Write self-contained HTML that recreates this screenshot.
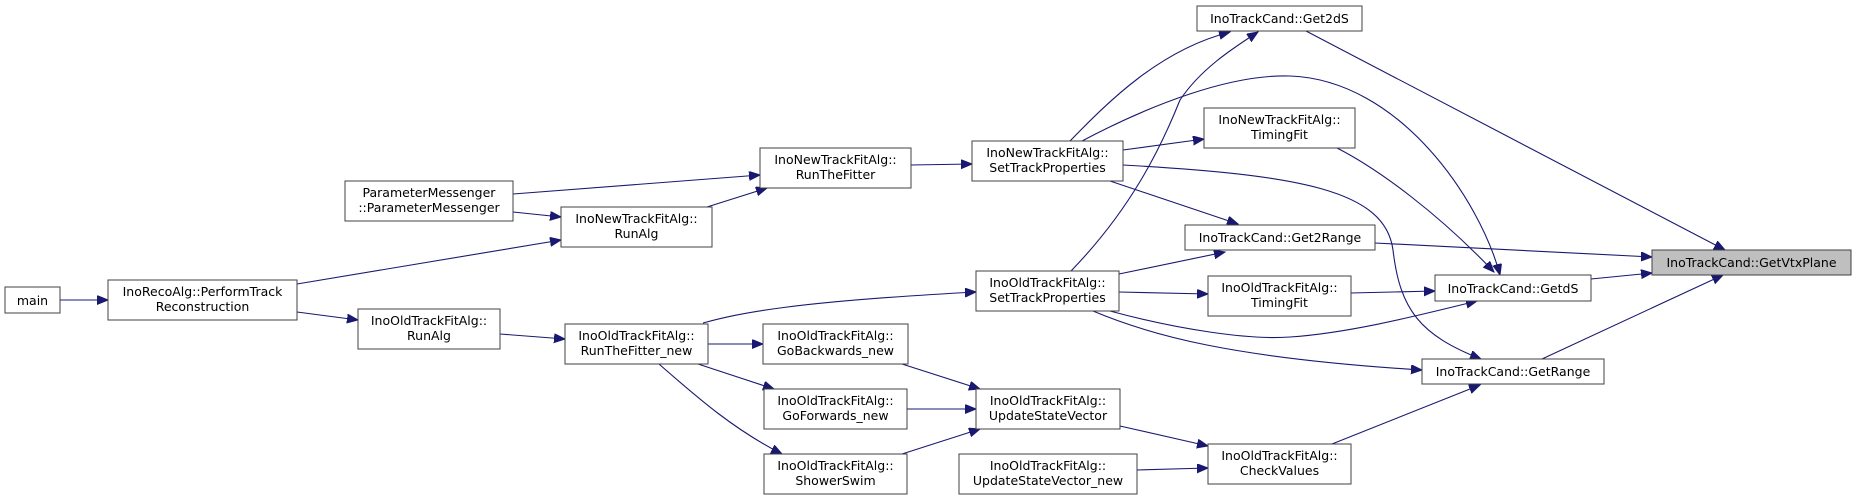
<!DOCTYPE html>
<html><head><meta charset="utf-8"><style>
html,body{margin:0;padding:0;background:#fff;}
svg{display:block;}
text{font-family:"DejaVu Sans","Liberation Sans",sans-serif;font-size:12.5px;fill:#000;text-anchor:middle;}
.n{fill:#fff;stroke:#404040;stroke-width:1;}
.e{fill:none;stroke:#191970;stroke-width:1.1;marker-end:url(#a);}
</style></head><body>
<svg width="1856" height="501" viewBox="0 0 1856 501" xmlns="http://www.w3.org/2000/svg">
<defs><marker id="a" markerUnits="userSpaceOnUse" markerWidth="12" markerHeight="10" refX="11" refY="4.5" orient="auto"><path d="M0,0 L11,4.5 L0,9 Z" fill="#191970" stroke="#191970"/></marker></defs>

<!-- edges -->
<path class="e" d="M60,300 L108,300"/>
<path class="e" d="M297,284 L561,240"/>
<path class="e" d="M297,312 L358,320"/>
<path class="e" d="M513,194 L760,175"/>
<path class="e" d="M513,212 L561,217"/>
<path class="e" d="M707,207 L767,188"/>
<path class="e" d="M911,165 L972,164"/>
<path class="e" d="M500,334 L565,339"/>
<path class="e" d="M703,323 C740,313 790,302 976,292"/>
<path class="e" d="M708,344 L763,344"/>
<path class="e" d="M698,364 L774,389"/>
<path class="e" d="M659,364 C700,400 735,430 782,454"/>
<path class="e" d="M902,364 L980,389"/>
<path class="e" d="M907,409 L976,409"/>
<path class="e" d="M902,454 L980,429"/>
<path class="e" d="M1070,141 C1110,100 1160,50 1230,32"/>
<path class="e" d="M1082,141 C1150,105 1230,74 1290,76 C1400,80 1480,200 1500,275"/>
<path class="e" d="M1123,150 L1204,139"/>
<path class="e" d="M1123,165 C1300,175 1385,190 1393,250 C1400,310 1420,335 1481,359"/>
<path class="e" d="M1110,181 L1238,224"/>
<path class="e" d="M1071,271 C1130,210 1160,150 1180,100 C1200,70 1230,50 1258,32"/>
<path class="e" d="M1119,274 L1225,252"/>
<path class="e" d="M1119,292 L1208,294"/>
<path class="e" d="M1110,311 C1180,330 1250,340 1290,337 C1350,333 1420,315 1477,301"/>
<path class="e" d="M1093,311 C1150,335 1230,358 1422,370"/>
<path class="e" d="M1120,426 L1208,446"/>
<path class="e" d="M1137,470 L1208,468"/>
<path class="e" d="M1332,444 L1480,385"/>
<path class="e" d="M1306,31 L1725,250"/>
<path class="e" d="M1337,148 C1380,170 1440,215 1494,272"/>
<path class="e" d="M1375,243 L1652,257"/>
<path class="e" d="M1351,293 L1435,291"/>
<path class="e" d="M1591,279 L1652,273"/>
<path class="e" d="M1542,359 L1723,275"/>

<!-- nodes -->
<rect class="n" x="5" y="287" width="55" height="26"/><text x="32.5" y="305">main</text>
<rect class="n" x="108" y="280" width="189" height="40"/><text x="202.5" y="296">InoRecoAlg::PerformTrack</text><text x="202.5" y="311">Reconstruction</text>
<rect class="n" x="345" y="181" width="168" height="40"/><text x="429" y="197">ParameterMessenger</text><text x="429" y="212">::ParameterMessenger</text>
<rect class="n" x="358" y="309" width="142" height="40"/><text x="429" y="325">InoOldTrackFitAlg::</text><text x="429" y="340">RunAlg</text>
<rect class="n" x="561" y="207" width="151" height="40"/><text x="636.5" y="223">InoNewTrackFitAlg::</text><text x="636.5" y="238">RunAlg</text>
<rect class="n" x="760" y="148" width="151" height="40"/><text x="835.5" y="164">InoNewTrackFitAlg::</text><text x="835.5" y="179">RunTheFitter</text>
<rect class="n" x="565" y="324" width="143" height="40"/><text x="636.5" y="340">InoOldTrackFitAlg::</text><text x="636.5" y="355">RunTheFitter_new</text>
<rect class="n" x="763" y="324" width="145" height="40"/><text x="835.5" y="340">InoOldTrackFitAlg::</text><text x="835.5" y="355">GoBackwards_new</text>
<rect class="n" x="764" y="389" width="143" height="40"/><text x="835.5" y="405">InoOldTrackFitAlg::</text><text x="835.5" y="420">GoForwards_new</text>
<rect class="n" x="764" y="454" width="143" height="40"/><text x="835.5" y="470">InoOldTrackFitAlg::</text><text x="835.5" y="485">ShowerSwim</text>
<rect class="n" x="972" y="141" width="151" height="40"/><text x="1047.5" y="157">InoNewTrackFitAlg::</text><text x="1047.5" y="172">SetTrackProperties</text>
<rect class="n" x="976" y="271" width="143" height="40"/><text x="1047.5" y="287">InoOldTrackFitAlg::</text><text x="1047.5" y="302">SetTrackProperties</text>
<rect class="n" x="976" y="389" width="144" height="40"/><text x="1048" y="405">InoOldTrackFitAlg::</text><text x="1048" y="420">UpdateStateVector</text>
<rect class="n" x="959" y="454" width="178" height="40"/><text x="1048" y="470">InoOldTrackFitAlg::</text><text x="1048" y="485">UpdateStateVector_new</text>
<rect class="n" x="1197" y="6" width="165" height="25"/><text x="1279.5" y="23">InoTrackCand::Get2dS</text>
<rect class="n" x="1204" y="108" width="151" height="40"/><text x="1279.5" y="124">InoNewTrackFitAlg::</text><text x="1279.5" y="139">TimingFit</text>
<rect class="n" x="1185" y="225" width="190" height="25"/><text x="1280" y="242">InoTrackCand::Get2Range</text>
<rect class="n" x="1208" y="276" width="143" height="40"/><text x="1279.5" y="292">InoOldTrackFitAlg::</text><text x="1279.5" y="307">TimingFit</text>
<rect class="n" x="1208" y="444" width="143" height="40"/><text x="1279.5" y="460">InoOldTrackFitAlg::</text><text x="1279.5" y="475">CheckValues</text>
<rect class="n" x="1435" y="275" width="156" height="26"/><text x="1513" y="293">InoTrackCand::GetdS</text>
<rect class="n" x="1422" y="359" width="182" height="25"/><text x="1513" y="376">InoTrackCand::GetRange</text>
<rect x="1652" y="250" width="199" height="25" fill="#bfbfbf" stroke="#404040"/><text x="1751.5" y="267">InoTrackCand::GetVtxPlane</text>
</svg>
</body></html>
